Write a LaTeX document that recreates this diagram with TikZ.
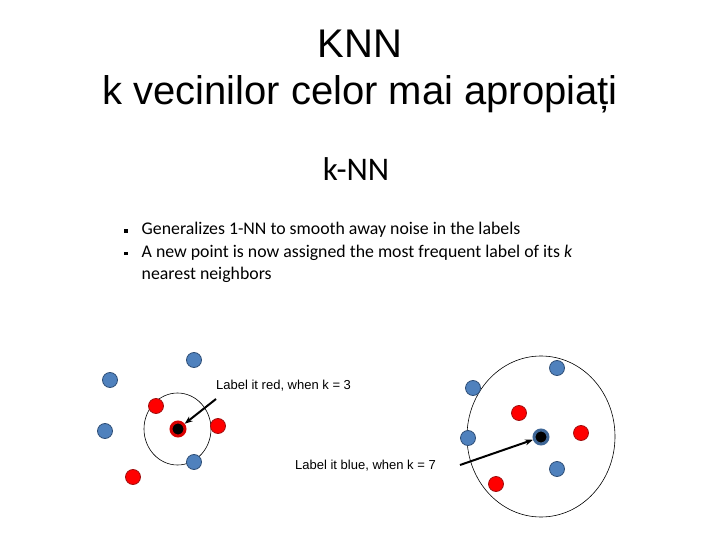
\documentclass[tikz,border=0pt]{standalone}
\usepackage{fontspec}
\setmainfont{Liberation Sans}
\newfontfamily\calib{Carlito}
\usetikzlibrary{arrows.meta}
\definecolor{dotblue}{HTML}{4F81BD}
\definecolor{dotblueline}{HTML}{2F4F77}
\definecolor{dotred}{HTML}{FF0000}
\definecolor{dotredline}{HTML}{A01010}
\tikzset{
  bdot/.style={circle, fill=dotblue, draw=dotblueline, line width=0.8pt, minimum size=15pt, inner sep=0pt},
  rdot/.style={circle, fill=dotred, draw=dotredline, line width=0.8pt, minimum size=15pt, inner sep=0pt},
  query/.style={circle, fill=black, minimum size=14pt, inner sep=0pt, line width=3pt},
  ring/.style={draw=black, line width=0.6pt},
  lbl/.style={font=\fontsize{13}{15}\selectfont, anchor=west, inner sep=0pt},
  pointer/.style={-{Stealth[length=8pt,width=6pt]}, line width=2pt},
}
\begin{document}
\begin{tikzpicture}[x=1pt,y=-1pt]
\useasboundingbox (0,0) rectangle (720,540);
% titles
\node (t1) at (360,44) {\fontsize{40}{46}\selectfont KNN};
\node (t2) at (360,94) {\fontsize{40}{46}\selectfont k vecinilor celor mai apropiați};
\node (kn) at (356,169) {\calib\fontsize{33}{36}\selectfont k-NN};
\node[anchor=north west, inner sep=0pt, align=left, font=\calib\fontsize{17.8}{22.5}\selectfont] (bl) at (124,222)
 {\raisebox{2pt}{\rule{3.5pt}{3.5pt}}\hspace{14pt}Generalizes 1-NN to smooth away noise in the labels\\
  \raisebox{2pt}{\rule{3.5pt}{3.5pt}}\hspace{14pt}A new point is now assigned the most frequent label of its \textit{k}\\
  \phantom{\rule{3.5pt}{3.5pt}}\hspace{14pt}nearest neighbors};
% left group
\draw[ring] (177.5,429) ellipse [x radius=33.5, y radius=36];
\node[bdot] (lb1) at (194,360) {};
\node[bdot] (lb2) at (110,380) {};
\node[rdot] (lr1) at (156,406) {};
\node[rdot] (lr2) at (218,426) {};
\node[bdot] (lb3) at (105,431) {};
\node[bdot] (lb4) at (194,462) {};
\node[rdot] (lr3) at (133,477) {};
\node[query, draw=dotred!85!black] (lq) at (178,429) {};
\node[lbl] (l1) at (216,386) {Label it red, when k = 3};
\coordinate (a1) at (216,399);
\draw[pointer] (a1) -- (lq);
% right group
\draw[ring] (541,436.5) ellipse [x radius=74, y radius=80.5];
\node[bdot] (rb1) at (557,368) {};
\node[bdot] (rb2) at (473,388) {};
\node[rdot] (rr1) at (519,413) {};
\node[rdot] (rr2) at (581,433) {};
\node[bdot] (rb3) at (468,438) {};
\node[bdot] (rb4) at (557,469) {};
\node[rdot] (rr3) at (496,484) {};
\node[query, draw=dotblue!80!black] (rq) at (541,437) {};
\node[lbl] (l2) at (295,466) {Label it blue, when k = 7};
\coordinate (a2) at (460,465);
\draw[pointer] (a2) -- (rq);
\end{tikzpicture}
\end{document}
